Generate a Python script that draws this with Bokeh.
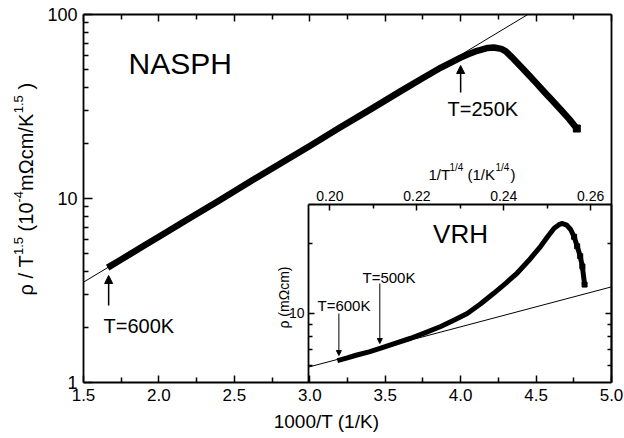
import numpy as np
from bokeh.plotting import figure
from bokeh.models import (Range1d, LogScale, LinearAxis, LogAxis, FixedTicker, Label,
                          Arrow, NormalHead, PrintfTickFormatter)
from bokeh.embed import file_html
from bokeh.resources import INLINE

# ---------------- data ----------------
# main panel: rho/T^1.5 (1e-4 mOhm cm / K^1.5) versus 1000/T
inv_T = [1.66, 1.75, 1.90, 2.00, 2.20, 2.40, 2.60, 2.80, 3.00, 3.20, 3.40, 3.60,
         3.75, 3.87, 4.00, 4.05, 4.11, 4.18, 4.22, 4.27, 4.30, 4.34, 4.40, 4.45,
         4.50, 4.55, 4.60, 4.67, 4.72, 4.77]
rho_T15 = [4.21, 4.66, 5.53, 6.19, 7.78, 9.76, 12.3, 15.4, 19.3, 24.3, 30.4, 38.2,
           45.2, 51.5, 58.3, 60.8, 63.5, 65.8, 66.2, 65.0, 63.0, 58.5, 52.0, 47.0,
           42.5, 38.3, 34.6, 30.0, 27.0, 24.0]
fit_x = [1.5, 4.445]
fit_y = [3.51, 100.0]
arrow_T_main = [600, 250]

# inset: rho (mOhm cm) versus T^-1/4
vrh_x = [0.2017, 0.2040, 0.2060, 0.2090, 0.2117, 0.2150, 0.2186, 0.2220, 0.2255,
         0.2285, 0.2316, 0.2347, 0.2377, 0.2405, 0.2431, 0.2458, 0.2485, 0.2500,
         0.2516, 0.2527, 0.2535, 0.2545, 0.2554, 0.2562, 0.2569, 0.2576, 0.2581, 0.2586]
vrh_rho = [6.28, 6.45, 6.62, 6.85, 7.10, 7.45, 7.83, 8.28, 8.79,
           9.35, 10.0, 11.0, 12.2, 13.5, 14.9, 16.9, 19.4, 21.2,
           23.2, 24.0, 24.3, 23.9, 22.9, 21.3, 19.4, 17.6, 15.9, 13.3]
vrh_fit_x = [0.19506, 0.2648]
vrh_fit_y = [5.89, 13.0]
arrow_T_inset = [600, 500]

x_ticks = [1.5, 2.0, 2.5, 3.0, 3.5, 4.0, 4.5, 5.0]
x_minor = [1.75, 2.25, 2.75, 3.25, 3.75, 4.25, 4.75]
y_ticks = [1, 10, 100]
y_minor = [2, 3, 4, 5, 6, 7, 8, 9, 20, 30, 40, 50, 60, 70, 80, 90]
ix_ticks = [0.20, 0.22, 0.24, 0.26]
ix_minor = [0.21, 0.23, 0.25]
iy_ticks = [10]
iy_minor = [6, 7, 8, 9, 20]

FONT = "Liberation Sans"
W, H = 624, 438

# box of the main panel (data) and where it sits on the canvas (pixels)
MX, MY = (1.5, 5.0), (1.0, 100.0)
ML, MR, MT, MB = 83, 611, 14, 382
# box of the inset (data) and where it sits (pixels)
IX, IY = (0.19506, 0.2648), (5.06, 29.3)
IL, IR, IT, IB = 308, 611, 204, 382

kx = (MX[1] - MX[0]) / (MR - ML)
ky = (np.log10(MY[1]) - np.log10(MY[0])) / (MB - MT)
ikx = (IX[1] - IX[0]) / (IR - IL)
iky = (np.log10(IY[1]) - np.log10(IY[0])) / (IB - IT)

x_full = (MX[0] - ML * kx, MX[1] + (W - MR) * kx)
y_full = (10 ** (np.log10(MY[0]) - (H - MB) * ky), 10 ** (np.log10(MY[1]) + MT * ky))
ix_full = (IX[0] - IL * ikx, IX[1] + (W - IR) * ikx)
iy_full = (10 ** (np.log10(IY[0]) - (H - IB) * iky), 10 ** (np.log10(IY[1]) + IT * iky))


def mx(px):
    return x_full[0] + px * kx


def my(py):
    return 10 ** (np.log10(y_full[1]) - py * ky)


def ixp(px):
    return ix_full[0] + px * ikx


def iyp(py):
    return 10 ** (np.log10(iy_full[1]) - py * iky)


p = figure(width=W, height=H, x_range=Range1d(*x_full), y_range=Range1d(*y_full),
           y_axis_type="log", x_axis_location=None, y_axis_location=None,
           output_backend="svg", toolbar_location=None, min_border=0)
p.grid.visible = False
p.outline_line_color = None
p.background_fill_color = "white"
p.border_fill_color = "white"

p.extra_x_ranges = {"ix": Range1d(*ix_full)}
p.extra_y_ranges = {"iy": Range1d(*iy_full)}
p.extra_y_scales = {"iy": LogScale()}


def style_axis(ax, major_in, minor_in, size="17px", standoff=6, labels=True):
    ax.major_tick_in = major_in
    ax.major_tick_out = 0
    ax.minor_tick_in = minor_in
    ax.minor_tick_out = 0
    ax.axis_line_width = 1.8
    ax.axis_line_color = "black"
    ax.major_tick_line_width = 1.5
    ax.minor_tick_line_width = 1.5
    ax.major_label_text_font = FONT
    ax.major_label_text_font_size = size
    ax.major_label_text_color = "black"
    ax.major_label_standoff = standoff
    if not labels:
        ax.major_label_text_alpha = 0
        ax.major_label_text_font_size = "1px"


# main axes (drawn at the edges of the main box)
bx = LinearAxis(fixed_location=MY[0], bounds=MX,
                ticker=FixedTicker(ticks=x_ticks, minor_ticks=x_minor),
                formatter=PrintfTickFormatter(format="%.1f"))
style_axis(bx, 7, 5, size="17px", standoff=6)
p.add_layout(bx, "below")

ly = LogAxis(fixed_location=MX[0], bounds=MY,
             ticker=FixedTicker(ticks=y_ticks, minor_ticks=y_minor),
             formatter=PrintfTickFormatter(format="%d"))
style_axis(ly, 9, 5, size="18px", standoff=6)
p.add_layout(ly, "left")

tx = LinearAxis(fixed_location=MY[1], bounds=MX,
                ticker=FixedTicker(ticks=x_ticks, minor_ticks=x_minor))
style_axis(tx, 7, 5, labels=False)
p.add_layout(tx, "above")

ry = LogAxis(fixed_location=MX[1], bounds=MY, ticker=FixedTicker(ticks=[], minor_ticks=[]))
style_axis(ry, 0, 0, labels=False)
p.add_layout(ry, "right")

# main data
p.line(fit_x, fit_y, line_color="black", line_width=1)
p.line(inv_T, rho_T15, line_color="black", line_width=6.5, line_join="round")
p.scatter(inv_T[-1:], rho_T15[-1:], marker="square", size=7, color="black")

# main arrows
for T, (y0, y1) in zip(arrow_T_main, [(305, 275), (92, 65)]):
    p.add_layout(Arrow(x_start=1000.0 / T, y_start=my(y0), x_end=1000.0 / T, y_end=my(y1),
                       line_width=1.5, line_color="black",
                       end=NormalHead(size=8, fill_color="black", line_color="black")))


def txt(px, py, s, size, align="left", angle=0):
    p.add_layout(Label(x=mx(px), y=my(py), text=s, text_font=FONT, text_font_size=size,
                       text_align=align, text_baseline="middle", angle=angle,
                       text_color="black"))


txt(128, 63, "NASPH", "30px")
txt(103, 325, "T=600K", "20px")
txt(447, 108, "T=250K", "20px")
txt(326, 421, "1000/T (1/K)", "19px", align="center")

# rotated y-axis label with superscripts (start positions along the axis, in px)
ylab = [("ρ / T", 295, False), ("1.5", 254.6, True), ("(10", 230.9, False),
        ("-4", 202, True), ("mΩcm/K", 190.4, False), ("1.5", 112.8, True), (")", 89.1, False)]
for s, start, sup in ylab:
    txt(18 if sup else 25, start, s, "13px" if sup else "20px", angle=np.pi / 2)

# ---------------- inset ----------------
p.quad(left=IX[0], right=IX[1], bottom=IY[0], top=IY[1], x_range_name="ix", y_range_name="iy",
       fill_color="white", line_color=None)

it = LinearAxis(x_range_name="ix", y_range_name="iy", fixed_location=IY[1], bounds=IX,
                ticker=FixedTicker(ticks=ix_ticks, minor_ticks=ix_minor),
                formatter=PrintfTickFormatter(format="%.2f"))
style_axis(it, 6, 4, size="14px", standoff=4)
p.add_layout(it, "above")

il = LogAxis(x_range_name="ix", y_range_name="iy", fixed_location=IX[0], bounds=IY,
             ticker=FixedTicker(ticks=iy_ticks, minor_ticks=iy_minor),
             formatter=PrintfTickFormatter(format="%d"))
style_axis(il, 6, 4, size="14px", standoff=4)
p.add_layout(il, "left")

ir = LogAxis(x_range_name="ix", y_range_name="iy", fixed_location=IX[1], bounds=IY,
             ticker=FixedTicker(ticks=iy_ticks, minor_ticks=iy_minor))
style_axis(ir, 6, 4, labels=False)
p.add_layout(ir, "right")

p.line(vrh_fit_x, vrh_fit_y, x_range_name="ix", y_range_name="iy", line_color="black", line_width=1)
p.line(vrh_x, vrh_rho, x_range_name="ix", y_range_name="iy", line_color="black",
       line_width=5, line_join="round")
p.scatter(vrh_x[-5:], vrh_rho[-5:], x_range_name="ix", y_range_name="iy", marker="square",
          size=5, color="black")

for T, (y0, y1) in zip(arrow_T_inset, [(313, 355), (283, 343)]):
    xv = T ** -0.25
    p.add_layout(Arrow(x_start=xv, y_start=iyp(y0), x_end=xv, y_end=iyp(y1),
                       x_range_name="ix", y_range_name="iy",
                       line_width=1, line_color="black",
                       end=NormalHead(size=5, fill_color="black", line_color="black")))


def itxt(px, py, s, size, align="left", angle=0):
    p.add_layout(Label(x=ixp(px), y=iyp(py), text=s, text_font=FONT, text_font_size=size,
                       text_align=align, text_baseline="middle", angle=angle,
                       x_range_name="ix", y_range_name="iy", text_color="black"))


itxt(460, 233, "VRH", "26px", align="center")
itxt(317, 305, "T=600K", "15px")
itxt(362, 277, "T=500K", "15px")
itxt(283, 297, "ρ (mΩcm)", "14px", align="center", angle=np.pi / 2)

# inset x label with superscripts
xl = [("1/T", 428, False), ("1/4", 449, True), ("(1/K", 467, False), ("1/4", 495, True), (")", 510, False)]
for s, start, sup in xl:
    itxt(start, 167 if sup else 174, s, "10px" if sup else "15px")

open("out.html", "w").write(file_html(p, INLINE))
